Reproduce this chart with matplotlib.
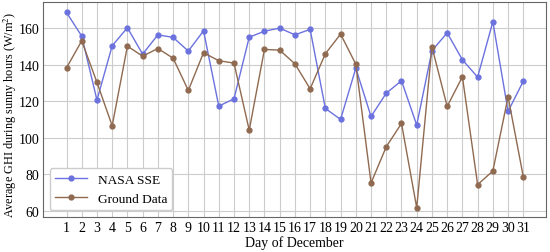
import matplotlib
matplotlib.use("Agg")
import matplotlib.pyplot as plt

days = list(range(1, 32))
nasa = [168.8, 155.8, 120.7, 150.5, 160.4, 145.9, 156.5, 155.1, 147.6, 158.7,
        117.4, 121.4, 155.2, 158.5, 160.2, 156.5, 159.5, 116.1, 110.1, 138.2,
        111.7, 124.5, 131.3, 107.0, 147.8, 157.6, 142.8, 133.3, 163.7, 114.5, 131.1]
ground = [138.4, 153.2, 130.4, 106.6, 150.3, 144.8, 149.0, 143.7, 126.0, 146.7,
          142.3, 141.0, 104.2, 148.5, 148.1, 140.6, 126.9, 146.1, 156.9, 140.4,
          75.2, 95.1, 107.9, 61.6, 149.9, 117.2, 133.5, 74.3, 81.8, 122.5, 78.6]

plt.rcParams['font.family'] = ['Liberation Serif', 'DejaVu Serif']
plt.rcParams['mathtext.fontset'] = 'stix'

fig = plt.figure(figsize=(5.5, 2.53), dpi=100)
ax = fig.add_axes([0.078, 0.138, 0.915, 0.85])
ax.plot(days, nasa, color='#6b72de', marker='o', markersize=3.5, linewidth=1.0, label='NASA SSE')
ax.plot(days, ground, color='#8f6a50', marker='o', markersize=3.5, linewidth=1.0, label='Ground Data')
ax.set_xlim(-0.55, 32.5)
ax.set_ylim(56.5, 174.5)
ax.set_xticks(days)
ax.set_yticks([60, 80, 100, 120, 140, 160])
ax.tick_params(labelsize=10, length=0, pad=2.5)
ax.grid(True, color='#cccccc', linewidth=0.8)
ax.set_axisbelow(True)
for s in ax.spines.values():
    s.set_color('#666666')
ax.set_xlabel('Day of December', fontsize=10, labelpad=1)
ax.set_ylabel('Average GHI during sunny hours (W/m$^2$)', fontsize=8.8)
ax.yaxis.set_label_coords(-0.048, 0.48)
ax.legend(loc='lower left', fontsize=9.6, frameon=True, framealpha=1, edgecolor='#cccccc',
          borderaxespad=0.5, handlelength=2.4)
fig.savefig('out.png', dpi=100)
